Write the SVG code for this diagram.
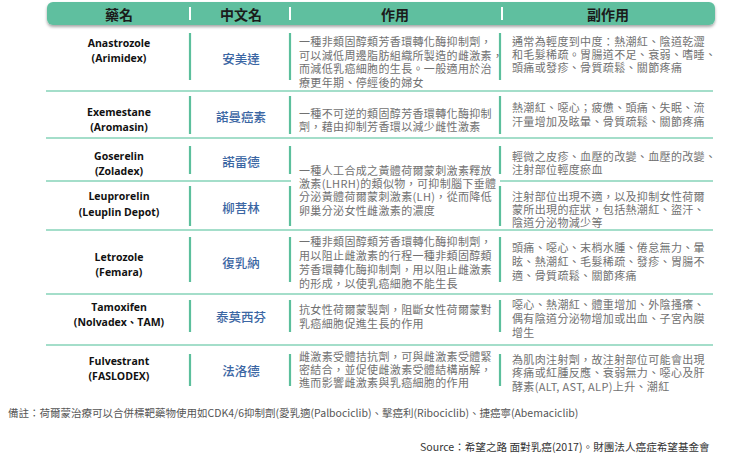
<svg xmlns="http://www.w3.org/2000/svg" width="750" height="461" viewBox="0 0 750 461">
<defs>
<filter id="sh" x="-5%" y="-30%" width="110%" height="180%">
<feDropShadow dx="0" dy="2" stdDeviation="1.6" flood-color="#000" flood-opacity="0.35"/>
</filter>
<style>
.hd{font-family:"Noto Sans CJK TC",sans-serif;font-weight:700;font-size:14px;fill:#1b1b1b;text-anchor:middle}
.en{font-family:"Open Sans","Noto Sans CJK TC",sans-serif;font-weight:700;font-size:10.5px;fill:#111;text-anchor:middle}
.zh{font-family:"Noto Sans CJK TC",sans-serif;font-weight:500;font-size:12.5px;fill:#3b66a3;text-anchor:middle}
.tx{font-family:"Noto Sans CJK TC",sans-serif;font-size:11px;letter-spacing:0.35px;fill:#717171}
.vl{stroke:#5cbf9c;stroke-width:2.2}
.hl{stroke:#86d3b8;stroke-width:1.5}
.hs{stroke:#fff;stroke-width:2}
.ft{font-family:"Noto Sans CJK TC",sans-serif;font-size:10.5px;fill:#555}
.src{font-family:"Noto Sans CJK TC",sans-serif;font-size:10.6px;fill:#333}
</style>
</defs>
<rect width="750" height="461" fill="#fff"/>

<g id="header">
<rect x="47" y="2" width="668" height="23" rx="6" fill="#5fbf9f" filter="url(#sh)"/>
<line class="hs" x1="190" y1="7" x2="190" y2="20"/>
<line class="hs" x1="290" y1="7" x2="290" y2="20"/>
<line class="hs" x1="502" y1="7" x2="502" y2="20"/>
<text class="hd" x="119" y="20">藥名</text>
<text class="hd" x="241" y="20">中文名</text>
<text class="hd" x="395" y="20">作用</text>
<text class="hd" x="608" y="20">副作用</text>
</g>

<g id="grid">
<line class="hl" x1="46" y1="91" x2="713" y2="91"/>
<line class="hl" x1="46" y1="138" x2="713" y2="138"/>
<line class="hl" x1="46" y1="181" x2="291" y2="181"/>
<line class="hl" x1="500" y1="181" x2="713" y2="181"/>
<line class="hl" x1="46" y1="230" x2="713" y2="230"/>
<line class="hl" x1="46" y1="294" x2="713" y2="294"/>
<line class="hl" x1="46" y1="345" x2="713" y2="345"/>
<g class="vl">
<line x1="190" y1="33" x2="190" y2="80"/><line x1="290" y1="33" x2="290" y2="80"/><line x1="500" y1="33" x2="500" y2="80"/>
<line x1="190" y1="96" x2="190" y2="134"/><line x1="290" y1="96" x2="290" y2="134"/><line x1="500" y1="96" x2="500" y2="134"/>
<line x1="190" y1="146" x2="190" y2="174"/><line x1="290" y1="146" x2="290" y2="174"/><line x1="500" y1="146" x2="500" y2="174"/>
<line x1="190" y1="186" x2="190" y2="226"/><line x1="290" y1="186" x2="290" y2="226"/><line x1="500" y1="186" x2="500" y2="226"/>
<line x1="190" y1="237" x2="190" y2="282"/><line x1="290" y1="237" x2="290" y2="282"/><line x1="500" y1="237" x2="500" y2="282"/>
<line x1="190" y1="300" x2="190" y2="332"/><line x1="290" y1="300" x2="290" y2="332"/><line x1="500" y1="300" x2="500" y2="332"/>
<line x1="190" y1="354" x2="190" y2="386"/><line x1="290" y1="354" x2="290" y2="386"/><line x1="500" y1="354" x2="500" y2="386"/>
</g>
</g>

<g id="row-anastrozole">
<text class="en" x="119" y="47">Anastrozole<tspan x="119" y="62">(Arimidex)</tspan></text>
<text class="zh" x="241" y="64">安美達</text>
<text class="tx" x="299" y="46">一種非類固醇類芳香環轉化酶抑制劑，<tspan x="299" y="60">可以減低周邊脂肪組織所製造的雌激素，</tspan><tspan x="299" y="73">而減低乳癌細胞的生長。一般適用於治</tspan><tspan x="299" y="87">療更年期、停經後的婦女</tspan></text>
<text class="tx" x="512" y="46">通常為輕度到中度：熱潮紅、陰道乾澀<tspan x="512" y="59">和毛髮稀疏。胃腸道不足、衰弱、嗜睡、</tspan><tspan x="512" y="72">頭痛或發疹、骨質疏鬆、關節疼痛</tspan></text>
</g>

<g id="row-exemestane">
<text class="en" x="119" y="116">Exemestane<tspan x="119" y="131">(Aromasin)</tspan></text>
<text class="zh" x="241" y="122">諾曼癌素</text>
<text class="tx" x="299" y="118">一種不可逆的類固醇芳香環轉化酶抑制<tspan x="299" y="131">劑，藉由抑制芳香環以減少雌性激素</tspan></text>
<text class="tx" x="512" y="112">熱潮紅、噁心；疲憊、頭痛、失眠、流<tspan x="512" y="126">汗量增加及眩暈、骨質疏鬆、關節疼痛</tspan></text>
</g>

<g id="row-lhrh">
<text class="tx" x="299" y="175">一種人工合成之黃體荷爾蒙刺激素釋放<tspan x="299" y="188">激素(LHRH)的類似物，可抑制腦下垂體</tspan><tspan x="299" y="201">分泌黃體荷爾蒙刺激素(LH)，從而降低</tspan><tspan x="299" y="215">卵巢分泌女性雌激素的濃度</tspan></text>
</g>

<g id="row-goserelin">
<text class="en" x="119" y="160">Goserelin<tspan x="119" y="175">(Zoladex)</tspan></text>
<text class="zh" x="241" y="167">諾雷德</text>
<text class="tx" x="512" y="161">輕微之皮疹、血壓的改變、血壓的改變、<tspan x="512" y="174">注射部位輕度瘀血</tspan></text>
</g>

<g id="row-leuprorelin">
<text class="en" x="119" y="200">Leuprorelin<tspan x="119" y="216">(Leuplin Depot)</tspan></text>
<text class="zh" x="241" y="213">柳菩林</text>
<text class="tx" x="512" y="201">注射部位出現不適，以及抑制女性荷爾<tspan x="512" y="214">蒙所出現的症狀，包括熱潮紅、盜汗、</tspan><tspan x="512" y="227">陰道分泌物減少等</tspan></text>
</g>

<g id="row-letrozole">
<text class="en" x="119" y="261">Letrozole<tspan x="119" y="276">(Femara)</tspan></text>
<text class="zh" x="241" y="268">復乳納</text>
<text class="tx" x="299" y="246">一種非類固醇類芳香環轉化酶抑制劑，<tspan x="299" y="260">用以阻止雌激素的行程一種非類固醇類</tspan><tspan x="299" y="274">芳香環轉化酶抑制劑，用以阻止雌激素</tspan><tspan x="299" y="288">的形成，以使乳癌細胞不能生長</tspan></text>
<text class="tx" x="512" y="252">頭痛、噁心、末梢水腫、倦怠無力、暈<tspan x="512" y="266">眩、熱潮紅、毛髮稀疏、發疹、胃腸不</tspan><tspan x="512" y="280">適、骨質疏鬆、關節疼痛</tspan></text>
</g>

<g id="row-tamoxifen">
<text class="en" x="119" y="311">Tamoxifen<tspan x="119" y="326">(Nolvadex、TAM)</tspan></text>
<text class="zh" x="241" y="322">泰莫西芬</text>
<text class="tx" x="299" y="314">抗女性荷爾蒙製劑，阻斷女性荷爾蒙對<tspan x="299" y="328">乳癌細胞促進生長的作用</tspan></text>
<text class="tx" x="512" y="309">噁心、熱潮紅、體重增加、外陰搔癢、<tspan x="512" y="323">偶有陰道分泌物增加或出血、子宮內膜</tspan><tspan x="512" y="337">增生</tspan></text>
</g>

<g id="row-fulvestrant">
<text class="en" x="119" y="365">Fulvestrant<tspan x="119" y="380">(FASLODEX)</tspan></text>
<text class="zh" x="241" y="376">法洛德</text>
<text class="tx" x="299" y="361">雌激素受體拮抗劑，可與雌激素受體緊<tspan x="299" y="374">密結合，並促使雌激素受體結構崩解，</tspan><tspan x="299" y="387">進而影響雌激素與乳癌細胞的作用</tspan></text>
<text class="tx" x="512" y="364">為肌肉注射劑，故注射部位可能會出現<tspan x="512" y="377">疼痛或紅腫反應、衰弱無力、噁心及肝</tspan><tspan x="512" y="391">酵素(ALT, AST, ALP)上升、潮紅</tspan></text>
</g>

<g id="footer">
<text class="ft" x="8" y="417">備註：荷爾蒙治療可以合併標靶藥物使用如CDK4/6抑制劑(愛乳適(Palbociclib)、擊癌利(Ribociclib)、捷癌寧(Abemaciclib)</text>
<text class="src" x="420" y="451">Source：希望之路 面對乳癌(2017)。財團法人癌症希望基金會</text>
</g>
</svg>
